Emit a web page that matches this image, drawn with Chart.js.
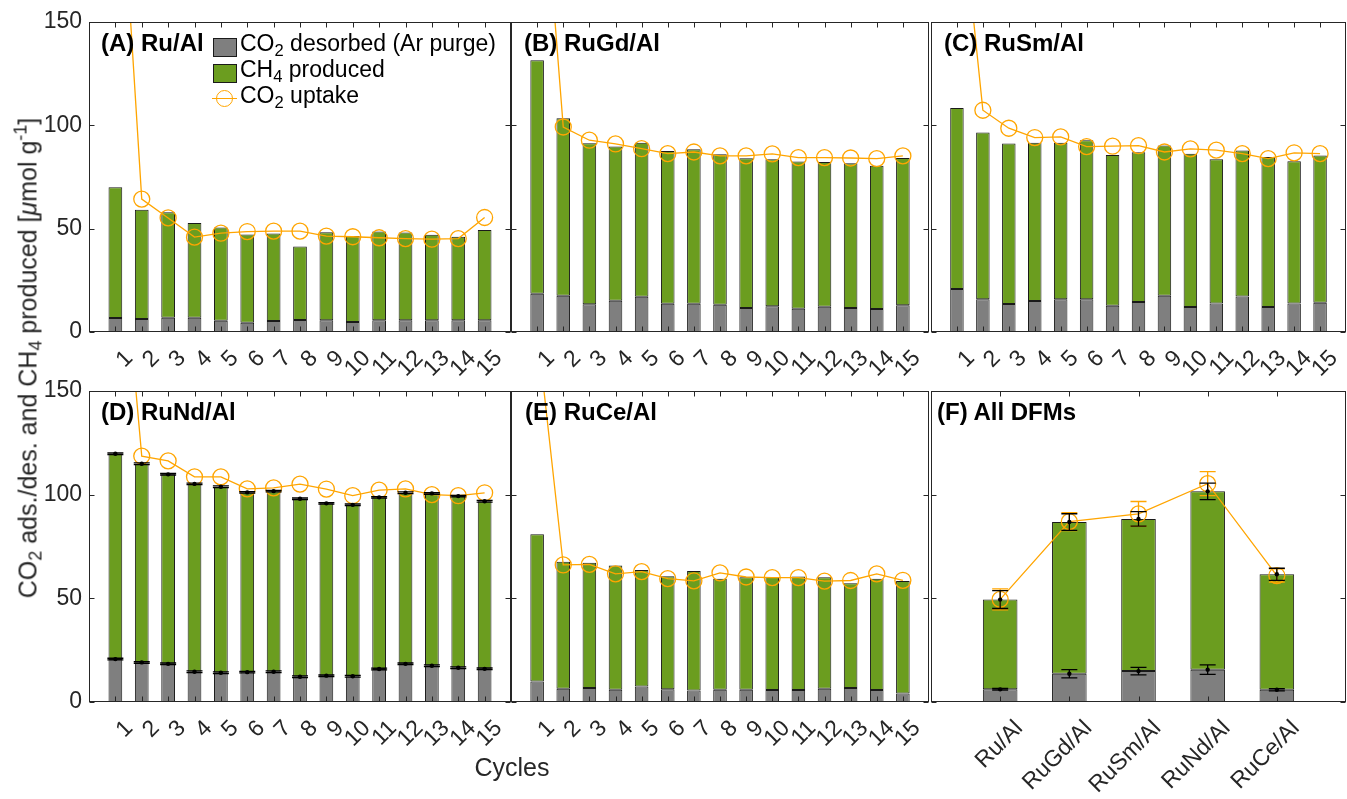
<!DOCTYPE html>
<html>
<head>
<meta charset="utf-8">
<script src="https://cdn.jsdelivr.net/npm/chart.js@4.4.1/dist/chart.umd.min.js"></script>
<style>
  html, body { margin: 0; padding: 0; background: #fff; }
  #page { position: relative; width: 1347px; height: 799px; overflow: hidden;
          font-family: 'Liberation Sans', Arial, Helvetica, sans-serif; color: #262626; }
  #page canvas { position: absolute; left: 0; top: 0; }
  .panel { position: absolute; font-weight: bold; font-size: 24px; line-height: 24px; color: #000; white-space: nowrap; z-index: 5; }
  .lgtext { position: absolute; font-size: 23px; line-height: 23px; color: #000; white-space: nowrap; z-index: 5; }
  .sw { position: absolute; width: 24px; height: 19px; box-sizing: border-box; border: 1px solid #1a1a1a; z-index: 5; }
  .axtitle { position: absolute; font-size: 25px; line-height: 25px; white-space: nowrap; color: #262626;
             transform: translate(-50%, -50%); z-index: 5; }
  sub { font-size: 0.72em; vertical-align: -0.28em; line-height: 0; }
  sup { font-size: 0.72em; vertical-align: 0.55em; line-height: 0; }
</style>
</head>
<body>
<div id="page">
  <!-- canvases are wider than the page so rotated-label padding never squeezes the right panels -->
  <canvas id="cA" width="1420" height="799"></canvas>
  <canvas id="cB" width="1420" height="799"></canvas>
  <canvas id="cC" width="1420" height="799"></canvas>
  <canvas id="cD" width="1420" height="799"></canvas>
  <canvas id="cE" width="1420" height="799"></canvas>
  <canvas id="cF" width="1420" height="799"></canvas>

  <!-- panel labels -->
  <div class="panel" style="left:101px; top:31px;">(A) Ru/Al</div>
  <div class="panel" style="left:524px; top:31px;">(B) RuGd/Al</div>
  <div class="panel" style="left:944px; top:31px;">(C) RuSm/Al</div>
  <div class="panel" style="left:101px; top:400px;">(D) RuNd/Al</div>
  <div class="panel" style="left:525px; top:400px;">(E) RuCe/Al</div>
  <div class="panel" style="left:937px; top:400px;">(F) All DFMs</div>

  <!-- legend (panel A) -->
  <div class="sw" style="left:213px; top:38px; background:#7f7f7f;"></div>
  <div class="lgtext" style="left:240px; top:32px;">CO<sub>2</sub> desorbed (Ar purge)</div>
  <div class="sw" style="left:213px; top:64px; background:#6b9d1f;"></div>
  <div class="lgtext" style="left:240px; top:58px;">CH<sub>4</sub> produced</div>
  <div style="position:absolute; left:212px; top:98px; width:25px; height:0; border-top:1.3px solid #ffa500; z-index:5;"></div>
  <div style="position:absolute; left:216px; top:90px; width:17px; height:17px; box-sizing:border-box; border:1.3px solid #ffa500; border-radius:50%; z-index:5;"></div>
  <div class="lgtext" style="left:240px; top:84px;">CO<sub>2</sub> uptake</div>

  <!-- axis titles -->
  <div class="axtitle" style="left:28px; top:358px; transform: translate(-50%, -50%) rotate(-90deg);">CO<sub>2</sub> ads./des. and CH<sub>4</sub> produced [<i>&mu;</i>mol g<sup>-1</sup>]</div>
  <div class="axtitle" style="left:512px; top:767px;">Cycles</div>
</div>

<script>
// x positions and tick labels
var cycles = [1, 2, 3, 4, 5, 6, 7, 8, 9, 10, 11, 12, 13, 14, 15];
var cycleLabels = ['1', '2', '3', '4', '5', '6', '7', '8', '9', '10', '11', '12', '13', '14', '15'];
var dfmPos = [1, 2, 3, 4, 5];
var dfmNames = ['Ru/Al', 'RuGd/Al', 'RuSm/Al', 'RuNd/Al', 'RuCe/Al'];
var yTicks = [0, 50, 100, 150];

// (A) Ru/Al
var ruAlDesorbed = [6.8, 6.3, 6.9, 6.9, 5.5, 4.5, 5.3, 5.8, 5.7, 4.8, 5.7, 5.7, 5.7, 5.7, 5.7];
var ruAlCH4 = [63.3, 52.8, 51.1, 45.9, 45.1, 42.7, 42.4, 35.6, 42.6, 41.6, 42.9, 42.5, 41.3, 40.4, 43.7];
var ruAlUptake = [268, 64.3, 55.2, 45.9, 47.8, 48.6, 48.8, 48.8, 46.4, 46.1, 45.6, 45.2, 44.9, 45.2, 55.4];

// (B) RuGd/Al
var ruGdDesorbed = [18.5, 17.5, 13.4, 15.1, 17.1, 13.7, 13.7, 13.2, 11.6, 12.4, 11.3, 12.2, 11.6, 11.1, 12.9];
var ruGdCH4 = [113.0, 85.9, 77.9, 74.6, 74.5, 73.9, 74.7, 72.8, 72.5, 71.2, 71.2, 70.0, 70.1, 69.3, 71.3];
var ruGdUptake = [261, 99.2, 92.8, 91.0, 88.7, 86.3, 87.1, 85.2, 85.2, 86.2, 84.4, 84.4, 84.2, 83.9, 85.2];

// (C) RuSm/Al
var ruSmDesorbed = [20.8, 15.9, 13.5, 15.0, 15.9, 15.9, 12.7, 14.5, 17.5, 12.1, 13.8, 17.2, 12.1, 13.8, 14.2];
var ruSmCH4 = [87.6, 80.6, 77.7, 76.6, 75.7, 76.9, 73.0, 72.5, 72.7, 74.1, 69.8, 70.6, 72.6, 68.8, 71.2];
var ruSmUptake = [229, 107.3, 98.6, 94.1, 94.4, 89.7, 89.9, 90.2, 87.1, 88.6, 88.0, 86.3, 83.9, 86.7, 86.3];

// (D) RuNd/Al  (with small error bars)
var ruNdDesorbed = [20.7, 19.1, 18.4, 14.6, 14.1, 14.4, 14.6, 12.2, 12.7, 12.4, 15.9, 18.4, 17.5, 16.5, 16.0];
var ruNdCH4 = [99.0, 95.8, 91.4, 90.6, 89.7, 86.7, 87.1, 85.8, 83.1, 82.7, 82.8, 82.5, 83.1, 82.8, 80.8];
var ruNdUptake = [261, 118.6, 116.3, 108.6, 108.6, 102.8, 103.3, 105.1, 102.7, 99.5, 102.2, 102.8, 100.0, 99.5, 100.9];
var ruNdDesorbedErr = [0.4, 0.4, 0.4, 0.4, 0.4, 0.4, 0.4, 0.4, 0.4, 0.4, 0.4, 0.4, 0.4, 0.4, 0.4];
var ruNdCH4Err = [0.4, 0.4, 0.4, 0.4, 0.4, 0.4, 0.4, 0.4, 0.4, 0.4, 0.4, 0.4, 0.4, 0.4, 0.4];

// (E) RuCe/Al
var ruCeDesorbed = [9.9, 6.4, 6.7, 5.9, 7.5, 6.2, 5.6, 5.9, 5.9, 5.8, 5.8, 6.4, 6.7, 5.8, 4.1];
var ruCeCH4 = [71.0, 61.3, 60.5, 59.9, 56.2, 54.5, 57.6, 53.5, 54.3, 54.5, 54.7, 53.8, 50.6, 53.7, 54.3];
var ruCeUptake = [180, 66.1, 66.4, 61.8, 62.9, 59.5, 58.4, 62.3, 60.3, 60.0, 60.0, 58.3, 58.6, 61.8, 58.7];

// (F) All DFMs (averages)
var allDesorbed = [6.1, 13.6, 14.9, 15.6, 5.9];
var allCH4 = [43.3, 73.2, 73.4, 86.0, 55.7];
var allUptake = [49.5, 87.0, 90.7, 105.3, 61.0];
var allDesorbedErr = [0.4, 2.0, 1.8, 2.3, 0.5];
var allCH4Err = [4.3, 4.0, 3.5, 4.0, 2.9];
var allUptakeErr = [5.1, 4.3, 6.0, 5.8, 3.2];

// colours
var gray = '#7f7f7f';
var green = '#6b9d1f';
var orange = '#ffa500';
var edge = '#1a1a1a';
var axisColor = '#262626';

var canvasW = 1420, canvasH = 799;

Chart.defaults.font.family = "'Liberation Sans', Arial, Helvetica, sans-serif";
Chart.defaults.color = axisColor;

// error bars drawn at each element's value end
var errorBars = {
    id: 'errorBars',
    afterDatasetsDraw: function(chart) {
        var ctx = chart.ctx;
        var ys = chart.scales.y;
        var unit = ys.getPixelForValue(0) - ys.getPixelForValue(1);
        chart.data.datasets.forEach(function(ds, di) {
            if (!ds.errors) return;
            var meta = chart.getDatasetMeta(di);
            ctx.save();
            ctx.strokeStyle = ds.errColor;
            ctx.fillStyle = ds.errColor;
            ctx.lineWidth = 1.3;
            meta.data.forEach(function(el, i) {
                var e = ds.errors[i] * unit;
                var x = el.x, y = el.y, c = 8;
                ctx.beginPath();
                ctx.moveTo(x, y - e); ctx.lineTo(x, y + e);
                ctx.moveTo(x - c, y - e); ctx.lineTo(x + c, y - e);
                ctx.moveTo(x - c, y + e); ctx.lineTo(x + c, y + e);
                ctx.stroke();
                if (ds.errDot) {
                    ctx.beginPath();
                    ctx.arc(x, y, 2.2, 0, 2 * Math.PI);
                    ctx.fill();
                }
            });
            ctx.restore();
        });
    }
};

// box around the plot and inward tick marks (MATLAB style)
var boxTicks = {
    id: 'boxTicks',
    afterDraw: function(chart, args, opts) {
        var ctx = chart.ctx, a = chart.chartArea;
        var xs = chart.scales.x, ys = chart.scales.y;
        var L = Math.round(a.left) + 0.5, R = Math.round(a.right) - 0.5;
        var T = Math.round(a.top) + 0.5, B = Math.round(a.bottom) - 0.5;
        ctx.save();
        ctx.strokeStyle = axisColor;
        ctx.lineWidth = 1;
        ctx.strokeRect(L, T, R - L, B - T);
        ctx.beginPath();
        opts.xTicks.forEach(function(v) {
            var px = Math.round(xs.getPixelForValue(v)) + 0.5;
            ctx.moveTo(px, B); ctx.lineTo(px, B - 5);
            ctx.moveTo(px, T); ctx.lineTo(px, T + 5);
        });
        yTicks.forEach(function(v) {
            var py = Math.round(ys.getPixelForValue(v)) + 0.5;
            ctx.moveTo(L, py); ctx.lineTo(L + 5, py);
            ctx.moveTo(R, py); ctx.lineTo(R - 5, py);
        });
        ctx.stroke();
        ctx.restore();
    }
};

function pts(xs, vals) {
    return xs.map(function(x, i) { return { x: x, y: vals[i] }; });
}

function draw_panel(id, area, xs, xLabels, xMax, s, showY, barPct, lblOff) {
    var yW = showY ? 60 : 10;
    var xH = canvasH - area.bottom - 2;   // room for rotated labels (labels are clipped to the axis box)
    var ctx = document.getElementById(id).getContext('2d');
    return new Chart(ctx, {
        type: 'bar',
        data: {
            datasets: [
                {
                    type: 'line',
                    label: 'CO2 uptake',
                    data: pts(xs, s.uptake),
                    borderColor: orange,
                    borderWidth: 1.3,
                    pointRadius: 8,
                    pointBorderWidth: 1.3,
                    pointBorderColor: orange,
                    pointBackgroundColor: 'rgba(0,0,0,0)',
                    fill: false,
                    tension: 0,
                    clip: 0,
                    stack: 'uptake',
                    errors: s.uptakeErr,
                    errColor: orange
                },
                {
                    label: 'CO2 desorbed (Ar purge)',
                    data: pts(xs, s.desorbed),
                    backgroundColor: gray,
                    borderColor: edge,
                    borderWidth: 1,
                    borderSkipped: false,
                    stack: 'bars',
                    errors: s.desorbedErr,
                    errColor: '#000',
                    errDot: true
                },
                {
                    label: 'CH4 produced',
                    data: pts(xs, s.ch4),
                    backgroundColor: green,
                    borderColor: edge,
                    borderWidth: 1,
                    borderSkipped: false,
                    stack: 'bars',
                    errors: s.ch4Err,
                    errColor: '#000',
                    errDot: true
                }
            ]
        },
        options: {
            responsive: false,
            animation: false,
            barPercentage: barPct,
            categoryPercentage: 1,
            layout: {
                padding: { left: area.left - yW, top: area.top, right: canvasW - area.right, bottom: canvasH - area.bottom - xH }
            },
            plugins: {
                legend: { display: false },
                tooltip: { enabled: false },
                boxTicks: { xTicks: xs }
            },
            scales: {
                x: {
                    type: 'linear',
                    min: 0,
                    max: xMax,
                    offset: false,
                    stacked: true,
                    grid: { display: false, drawTicks: false, offset: false },
                    border: { display: false },
                    ticks: {
                        stepSize: 1,
                        autoSkip: false,
                        minRotation: 45,
                        maxRotation: 45,
                        padding: 13,
                        labelOffset: lblOff,
                        font: { size: 23 },
                        color: axisColor,
                        callback: function(v) {
                            var i = xs.indexOf(Math.round(v));
                            return i < 0 ? '' : xLabels[i];
                        }
                    },
                    afterFit: function(sc) { sc.height = xH; }
                },
                y: {
                    min: 0,
                    max: 150,
                    stacked: true,
                    grid: { display: false, drawTicks: false },
                    border: { display: false },
                    ticks: { stepSize: 50, display: showY, padding: 7, font: { size: 23 }, color: axisColor },
                    afterFit: function(sc) { sc.width = yW; }
                }
            }
        },
        plugins: [errorBars, boxTicks]
    });
}

document.addEventListener('DOMContentLoaded', function() {
    draw_panel('cA', { left: 89, right: 511, top: 22, bottom: 332 }, cycles, cycleLabels, 16,
        { desorbed: ruAlDesorbed, ch4: ruAlCH4, uptake: ruAlUptake }, true, 0.52, 14);
    draw_panel('cB', { left: 511, right: 929, top: 22, bottom: 332 }, cycles, cycleLabels, 16,
        { desorbed: ruGdDesorbed, ch4: ruGdCH4, uptake: ruGdUptake }, false, 0.52, 14);
    draw_panel('cC', { left: 931, right: 1346, top: 22, bottom: 332 }, cycles, cycleLabels, 16,
        { desorbed: ruSmDesorbed, ch4: ruSmCH4, uptake: ruSmUptake }, false, 0.52, 14);
    draw_panel('cD', { left: 89, right: 511, top: 391, bottom: 702 }, cycles, cycleLabels, 16,
        { desorbed: ruNdDesorbed, ch4: ruNdCH4, uptake: ruNdUptake, desorbedErr: ruNdDesorbedErr, ch4Err: ruNdCH4Err }, true, 0.52, 14);
    draw_panel('cE', { left: 511, right: 929, top: 391, bottom: 702 }, cycles, cycleLabels, 16,
        { desorbed: ruCeDesorbed, ch4: ruCeCH4, uptake: ruCeUptake }, false, 0.52, 14);
    draw_panel('cF', { left: 931, right: 1346, top: 391, bottom: 702 }, dfmPos, dfmNames, 6,
        { desorbed: allDesorbed, ch4: allCH4, uptake: allUptake, desorbedErr: allDesorbedErr, ch4Err: allCH4Err, uptakeErr: allUptakeErr }, false, 0.5, 19);
});
</script>
</body>
</html>
